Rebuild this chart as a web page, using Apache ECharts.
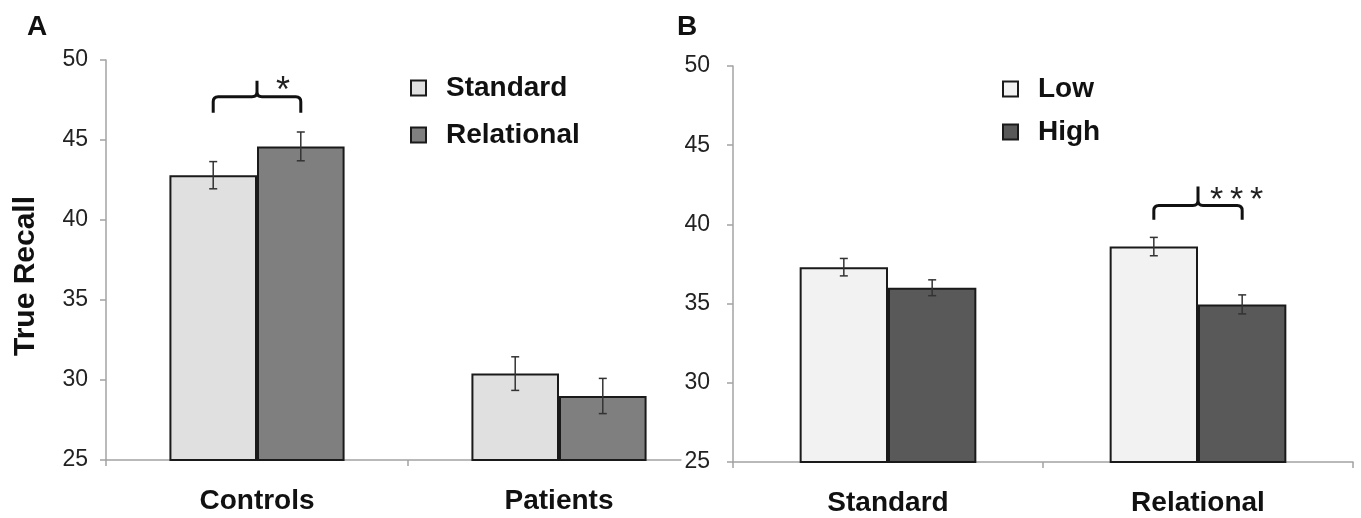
<!DOCTYPE html>
<html><head><meta charset="utf-8">
<script src="https://cdn.jsdelivr.net/npm/echarts@6/dist/echarts.min.js"></script>
<style>html,body{margin:0;padding:0;background:#fff}#c{width:1361px;height:518px}</style>
</head><body><div id="c"></div>
<script>
// ---- Panel A ----
const groupsA = ['Controls', 'Patients'];
const standardA = [42.8, 30.4];
const relationalA = [44.6, 29.0];
const standardErrA = [0.85, 1.05];
const relationalErrA = [0.9, 1.1];

// ---- Panel B ----
const groupsB = ['Standard', 'Relational'];
const lowB = [37.3, 38.6];
const highB = [36.0, 34.95];
const lowErrB = [0.55, 0.58];
const highErrB = [0.5, 0.6];

// shared y ticks
const yTicks = [25, 30, 35, 40, 45, 50];

// significance brackets: [category index, bracket foot, bracket bar, bracket tip]
const sigA = [[0, 46.7, 47.7, 48.7]];
const sigLabelsA = ['*'];
const sigB = [[1, 40.3, 41.2, 42.4]];
const sigLabelsB = ['*\u2009*\u2009*'];

const FONT = '"Liberation Sans", Arial, sans-serif';
const GAP_A = 0.42, GAP_B = 0.43;

function errRows(vals, errs, side) {
  return vals.map((v, i) => [i, v, errs[i], side]);
}

function errRender(gap) {
  return function (params, api) {
    const cat = api.value(0), v = api.value(1), e = api.value(2), side = api.value(3);
    const catW = api.size([1, 0])[0];
    const bw = catW * (1 - gap) / 2;
    const x = api.coord([cat, v])[0] + (side === 0 ? -bw / 2 : bw / 2);
    const yT = api.coord([cat, v + e])[1], yB = api.coord([cat, v - e])[1];
    const c = 4;
    const st = { stroke: '#333', lineWidth: 1.5 };
    return {
      type: 'group', children: [
        { type: 'line', shape: { x1: x, y1: yT, x2: x, y2: yB }, style: st },
        { type: 'line', shape: { x1: x - c, y1: yT, x2: x + c, y2: yT }, style: st },
        { type: 'line', shape: { x1: x - c, y1: yB, x2: x + c, y2: yB }, style: st }
      ]
    };
  };
}

function sigRender(gap, labels, fontSize, dx) {
  return function (params, api) {
    const cat = api.value(0);
    const catW = api.size([1, 0])[0];
    const bw = catW * (1 - gap) / 2;
    const cx = api.coord([cat, api.value(2)])[0];
    const x1 = cx - bw / 2, x2 = cx + bw / 2;
    const yb = api.coord([cat, api.value(1)])[1];
    const yh = api.coord([cat, api.value(2)])[1];
    const yt = api.coord([cat, api.value(3)])[1];
    const r = 5;
    const d = 'M' + x1 + ' ' + yb + ' L' + x1 + ' ' + (yh + r) + ' Q' + x1 + ' ' + yh + ' ' + (x1 + r) + ' ' + yh +
      ' L' + (cx - r) + ' ' + yh + ' Q' + cx + ' ' + yh + ' ' + cx + ' ' + (yh - r) + ' L' + cx + ' ' + yt +
      ' M' + cx + ' ' + (yh - r) + ' Q' + cx + ' ' + yh + ' ' + (cx + r) + ' ' + yh +
      ' L' + (x2 - r) + ' ' + yh + ' Q' + x2 + ' ' + yh + ' ' + x2 + ' ' + (yh + r) + ' L' + x2 + ' ' + yb;
    return {
      type: 'group', children: [
        { type: 'path', shape: { pathData: d }, style: { fill: null, stroke: '#111', lineWidth: 3, lineJoin: 'round' } },
        { type: 'text', style: { text: labels[params.dataIndex], x: cx + dx, y: yh - 5, fill: '#222',
          font: fontSize + 'px ' + FONT, align: 'left', verticalAlign: 'middle' } }
      ]
    };
  };
}

const axisGray = '#a3a3a3';
function xAxisCfg(gi, data) {
  return {
    type: 'category', gridIndex: gi, data: data,
    axisLine: { show: true, lineStyle: { color: axisGray, width: 1.5 } },
    axisTick: { show: true, length: 6, lineStyle: { color: axisGray, width: 1.5 } },
    axisLabel: { fontSize: 28, fontWeight: 'bold', color: '#111', fontFamily: FONT, margin: 27 },
    splitLine: { show: false }
  };
}
function yAxisCfg(gi, extra) {
  return Object.assign({
    type: 'value', gridIndex: gi,
    min: yTicks[0], max: yTicks[yTicks.length - 1], interval: yTicks[1] - yTicks[0],
    axisLine: { show: true, lineStyle: { color: axisGray, width: 1.5 } },
    axisTick: { show: true, length: 6, lineStyle: { color: axisGray, width: 1.5 } },
    axisLabel: { fontSize: 23, color: '#222', fontFamily: FONT, margin: 18 },
    splitLine: { show: false }
  }, extra || {});
}

const barStyle = (c) => ({ color: c, borderColor: '#1a1a1a', borderWidth: 2 });
const legendText = { fontSize: 28, lineHeight: 28, fontWeight: 'bold', color: '#111', fontFamily: FONT, padding: [0, 0, 0, 15] };

const chart = echarts.init(document.getElementById('c'), null, { renderer: 'canvas' });
chart.setOption({
  animation: false,
  backgroundColor: '#fff',
  title: [
    { text: 'A', left: 22, top: 8, textStyle: { fontSize: 28, fontWeight: 'bold', color: '#111', fontFamily: FONT } },
    { text: 'B', left: 672, top: 8, textStyle: { fontSize: 28, fontWeight: 'bold', color: '#111', fontFamily: FONT } }
  ],
  legend: [
    { data: ['Standard', 'Relational'], orient: 'vertical', left: 410, top: 74, padding: 0, itemWidth: 15, itemHeight: 15, itemGap: 19,
      icon: 'rect', textStyle: legendText },
    { data: ['Low', 'High'], orient: 'vertical', left: 1002, top: 75, padding: 0, itemWidth: 15, itemHeight: 15, itemGap: 15,
      icon: 'rect', textStyle: legendText }
  ],
  grid: [
    { left: 106, top: 60, width: 604, height: 400 },
    { left: 733, top: 66, width: 620, height: 396 }
  ],
  xAxis: [xAxisCfg(0, groupsA), xAxisCfg(1, groupsB)],
  yAxis: [
    yAxisCfg(0, { name: 'True Recall', nameLocation: 'middle', nameRotate: 90, nameGap: 65,
      nameTextStyle: { fontSize: 30, fontWeight: 'bold', color: '#111', fontFamily: FONT, padding: [0, 32, 0, 0] } }),
    yAxisCfg(1, { z: 5, axisLabel: { fontSize: 23, color: '#222', fontFamily: FONT, margin: 20, backgroundColor: '#fff', padding: [2, 3] } })
  ],
  series: [
    { name: 'Standard', type: 'bar', xAxisIndex: 0, yAxisIndex: 0, data: standardA, barGap: '0%', barCategoryGap: (GAP_A * 100) + '%', itemStyle: barStyle('#e0e0e0') },
    { name: 'Relational', type: 'bar', xAxisIndex: 0, yAxisIndex: 0, data: relationalA, barGap: '0%', barCategoryGap: (GAP_A * 100) + '%', itemStyle: barStyle('#7f7f7f') },
    { type: 'custom', xAxisIndex: 0, yAxisIndex: 0, encode: { x: 0, y: 1 }, z: 5,
      data: errRows(standardA, standardErrA, 0).concat(errRows(relationalA, relationalErrA, 1)), renderItem: errRender(GAP_A) },
    { type: 'custom', xAxisIndex: 0, yAxisIndex: 0, encode: { x: 0, y: 2 }, z: 5, data: sigA, renderItem: sigRender(GAP_A, sigLabelsA, 36, 19) },

    { name: 'Low', type: 'bar', xAxisIndex: 1, yAxisIndex: 1, data: lowB, barGap: '0%', barCategoryGap: (GAP_B * 100) + '%', itemStyle: barStyle('#f2f2f2') },
    { name: 'High', type: 'bar', xAxisIndex: 1, yAxisIndex: 1, data: highB, barGap: '0%', barCategoryGap: (GAP_B * 100) + '%', itemStyle: barStyle('#595959') },
    { type: 'custom', xAxisIndex: 1, yAxisIndex: 1, encode: { x: 0, y: 1 }, z: 5,
      data: errRows(lowB, lowErrB, 0).concat(errRows(highB, highErrB, 1)), renderItem: errRender(GAP_B) },
    { type: 'custom', xAxisIndex: 1, yAxisIndex: 1, encode: { x: 0, y: 2 }, z: 5, data: sigB, renderItem: sigRender(GAP_B, sigLabelsB, 34, 12) }
  ]
});
</script>
</body></html>
